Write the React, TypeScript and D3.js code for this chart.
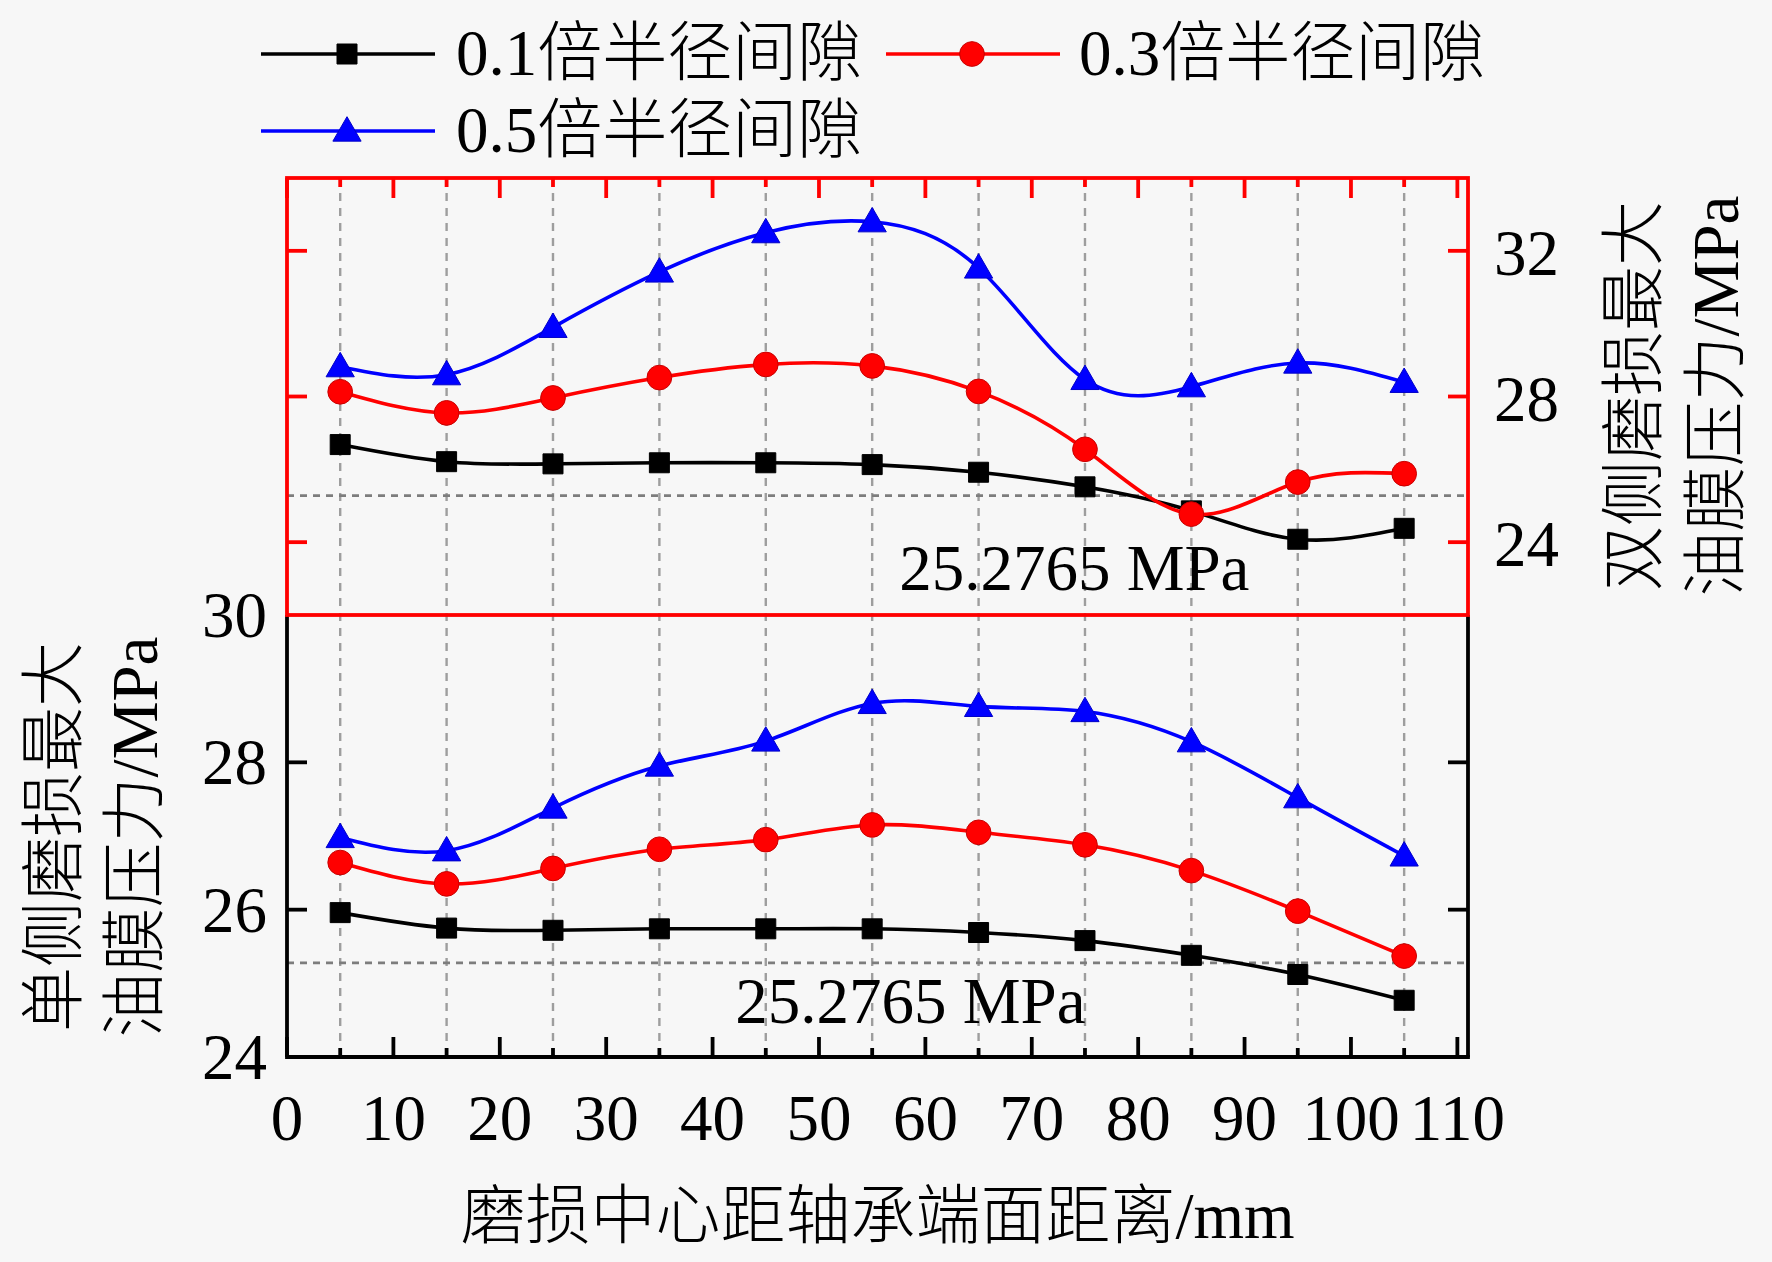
import {
  curveNatural,
  line,
  scaleLinear,
  symbol,
  symbolCircle,
  symbolSquare,
  symbolTriangle,
} from 'd3';

const W = 1772;
const H = 1262;
const FONT = "'Liberation Serif', 'Times New Roman', 'Noto Sans CJK SC', serif";

// wear centre distance from bearing end face (mm)
const distances = [5, 15, 25, 35, 45, 55, 65, 75, 85, 95, 105];
const seriesNames = ['0.1倍半径间隙', '0.3倍半径间隙', '0.5倍半径间隙'];

// single-side wear, max oil film pressure (MPa) -> lower panel, left axis
const single01 = [25.96, 25.75, 25.72, 25.74, 25.74, 25.74, 25.69, 25.58, 25.38, 25.12, 24.77];
const single03 = [26.64, 26.35, 26.56, 26.82, 26.95, 27.15, 27.05, 26.88, 26.53, 25.98, 25.37];
const single05 = [26.98, 26.8, 27.38, 27.95, 28.29, 28.8, 28.76, 28.69, 28.28, 27.52, 26.73];

// double-side wear, max oil film pressure (MPa) -> upper panel, right axis
const double01 = [26.68, 26.21, 26.15, 26.18, 26.18, 26.13, 25.92, 25.52, 24.86, 24.08, 24.38];
const double03 = [28.13, 27.55, 27.96, 28.52, 28.88, 28.84, 28.14, 26.55, 24.77, 25.65, 25.88];
const double05 = [28.82, 28.6, 29.9, 31.42, 32.5, 32.8, 31.53, 28.47, 28.27, 28.92, 28.39];

const xTicks = [0, 10, 20, 30, 40, 50, 60, 70, 80, 90, 100, 110];
const xMinorTicks = [5, 15, 25, 35, 45, 55, 65, 75, 85, 95, 105];
const singleTicks = [24, 26, 28, 30];
const doubleTicks = [24, 28, 32];
const limitPressure = 25.2765;
const limitLabel = '25.2765 MPa';
// where the limit labels sit, in data units [distance, pressure]
const upperLabelAt = [74, 22.69];
const lowerLabelAt = [58.6, 24.46];

const colors = ['#000000', '#ff0000', '#0000ff'];

const x = scaleLinear().domain([0, 111]).range([287, 1468]);
const yLow = scaleLinear().domain([24, 30]).range([1057, 615]);
const yUp = scaleLinear().domain([22, 34]).range([615, 178]);

const markerPaths = [
  symbol(symbolSquare, 400)() as string,
  symbol(symbolCircle, 480)() as string,
  symbol(symbolTriangle, 345)() as string,
];
const markerStroke = ['#000000', '#c80000', '#0000c8'];

function Series({ values, y, idx }: { values: number[]; y: any; idx: number }) {
  const pts = distances.map((d, i) => [d, values[i]] as [number, number]);
  const path = line<[number, number]>()
    .curve(curveNatural)
    .x((d) => x(d[0]))
    .y((d) => y(d[1]))(pts) as string;
  return (
    <g>
      <path d={path} fill="none" stroke={colors[idx]} strokeWidth={3.6} />
      {pts.map((p, i) => (
        <path
          key={i}
          d={markerPaths[idx]}
          transform={`translate(${x(p[0])},${y(p[1]) + (idx === 2 ? 2 : 0)})`}
          fill={colors[idx]}
          stroke={markerStroke[idx]}
          strokeWidth={1}
        />
      ))}
    </g>
  );
}

export default function App() {
  const [x0, x1] = x.range();
  const yTop = yUp.range()[1];
  const yMid = yLow.range()[1];
  const yBot = yLow.range()[0];
  const majorLen = 20;
  const minorLen = 9;
  const fs = 65;

  const legendRows = [
    { idx: 0, lx: 261, ly: 54, tx: 456 },
    { idx: 1, lx: 886, ly: 54, tx: 1079 },
    { idx: 2, lx: 261, ly: 131, tx: 456 },
  ];

  return (
    <svg
      width={W}
      height={H}
      style={{ position: 'absolute', left: 0, top: 0 }}
      fontFamily={FONT}
    >
      <rect width={W} height={H} fill="#f7f7f7" />

      {/* vertical dashed grid */}
      {distances.map((d) => (
        <line
          key={d}
          x1={x(d)}
          x2={x(d)}
          y1={yTop}
          y2={yBot}
          stroke="#9e9e9e"
          strokeWidth={2.4}
          strokeDasharray="8,7"
        />
      ))}

      {/* limit pressure lines */}
      <line x1={x0} x2={x1} y1={yUp(limitPressure)} y2={yUp(limitPressure)} stroke="#7d7d7d" strokeWidth={2.8} strokeDasharray="7,6" />
      <line x1={x0} x2={x1} y1={yLow(limitPressure)} y2={yLow(limitPressure)} stroke="#7d7d7d" strokeWidth={2.8} strokeDasharray="7,6" />

      {/* lower panel frame (black) */}
      <g stroke="#000" strokeWidth={3.8}>
        <line x1={x0} x2={x0} y1={yMid} y2={yBot} />
        <line x1={x1} x2={x1} y1={yMid} y2={yBot} />
        <line x1={x0 - 1.9} x2={x1 + 1.9} y1={yBot} y2={yBot} />
        {xTicks.map((t) => (
          <line key={t} x1={x(t)} x2={x(t)} y1={yBot} y2={yBot - majorLen} />
        ))}
        {xMinorTicks.map((t) => (
          <line key={t} x1={x(t)} x2={x(t)} y1={yBot} y2={yBot - minorLen} />
        ))}
        {singleTicks.slice(1, -1).map((t) => (
          <g key={t}>
            <line x1={x0} x2={x0 + majorLen} y1={yLow(t)} y2={yLow(t)} />
            <line x1={x1} x2={x1 - majorLen} y1={yLow(t)} y2={yLow(t)} />
          </g>
        ))}
      </g>

      {/* upper panel frame (red) */}
      <g stroke="#ff0000" strokeWidth={3.8}>
        <rect x={x0} y={yTop} width={x1 - x0} height={yMid - yTop} fill="none" />
        {xTicks.map((t) => (
          <line key={t} x1={x(t)} x2={x(t)} y1={yTop} y2={yTop + majorLen} />
        ))}
        {xMinorTicks.map((t) => (
          <line key={t} x1={x(t)} x2={x(t)} y1={yTop} y2={yTop + minorLen} />
        ))}
        {doubleTicks.map((t) => (
          <g key={t}>
            <line x1={x0} x2={x0 + majorLen} y1={yUp(t)} y2={yUp(t)} />
            <line x1={x1} x2={x1 - majorLen} y1={yUp(t)} y2={yUp(t)} />
          </g>
        ))}
      </g>

      {/* series */}
      <Series values={single01} y={yLow} idx={0} />
      <Series values={single03} y={yLow} idx={1} />
      <Series values={single05} y={yLow} idx={2} />
      <Series values={double01} y={yUp} idx={0} />
      <Series values={double03} y={yUp} idx={1} />
      <Series values={double05} y={yUp} idx={2} />

      {/* tick labels */}
      <g fontSize={fs} fill="#000">
        {xTicks.map((t) => (
          <text key={t} x={x(t)} y={yBot + 83} textAnchor="middle">
            {t}
          </text>
        ))}
        {singleTicks.map((t) => (
          <text key={t} x={x0 - 20} y={yLow(t) + 22} textAnchor="end">
            {t}
          </text>
        ))}
        {doubleTicks.map((t) => (
          <text key={t} x={x1 + 26} y={yUp(t) + 24} textAnchor="start">
            {t}
          </text>
        ))}
      </g>

      {/* limit labels */}
      <g fontSize={fs} fill="#000" textAnchor="middle">
        <text x={x(upperLabelAt[0])} y={yUp(upperLabelAt[1])}>{limitLabel}</text>
        <text x={x(lowerLabelAt[0])} y={yLow(lowerLabelAt[1])}>{limitLabel}</text>
      </g>

      {/* axis titles */}
      <g fontSize={fs} fill="#000" fontWeight={300}>
        <text x={(x0 + x1) / 2} y={1238} textAnchor="middle">
          磨损中心距轴承端面距离/mm
        </text>
        <text transform="translate(76,837) rotate(-90)" textAnchor="middle">
          单侧磨损最大
        </text>
        <text transform="translate(157,837) rotate(-90)" textAnchor="middle">
          油膜压力/MPa
        </text>
        <text transform="translate(1656,396) rotate(-90)" textAnchor="middle">
          双侧磨损最大
        </text>
        <text transform="translate(1738,396) rotate(-90)" textAnchor="middle">
          油膜压力/MPa
        </text>
      </g>

      {/* legend */}
      {legendRows.map((r) => (
        <g key={r.idx}>
          <line x1={r.lx} x2={r.lx + 174} y1={r.ly} y2={r.ly} stroke={colors[r.idx]} strokeWidth={3.6} />
          <path
            d={markerPaths[r.idx]}
            transform={`translate(${r.lx + 86},${r.ly + (r.idx === 2 ? 2 : 0)})`}
            fill={colors[r.idx]}
            stroke={markerStroke[r.idx]}
            strokeWidth={1}
          />
          <text x={r.tx} y={r.ly + 21} fontSize={fs} fontWeight={300} fill="#000">
            {seriesNames[r.idx]}
          </text>
        </g>
      ))}
    </svg>
  );
}
